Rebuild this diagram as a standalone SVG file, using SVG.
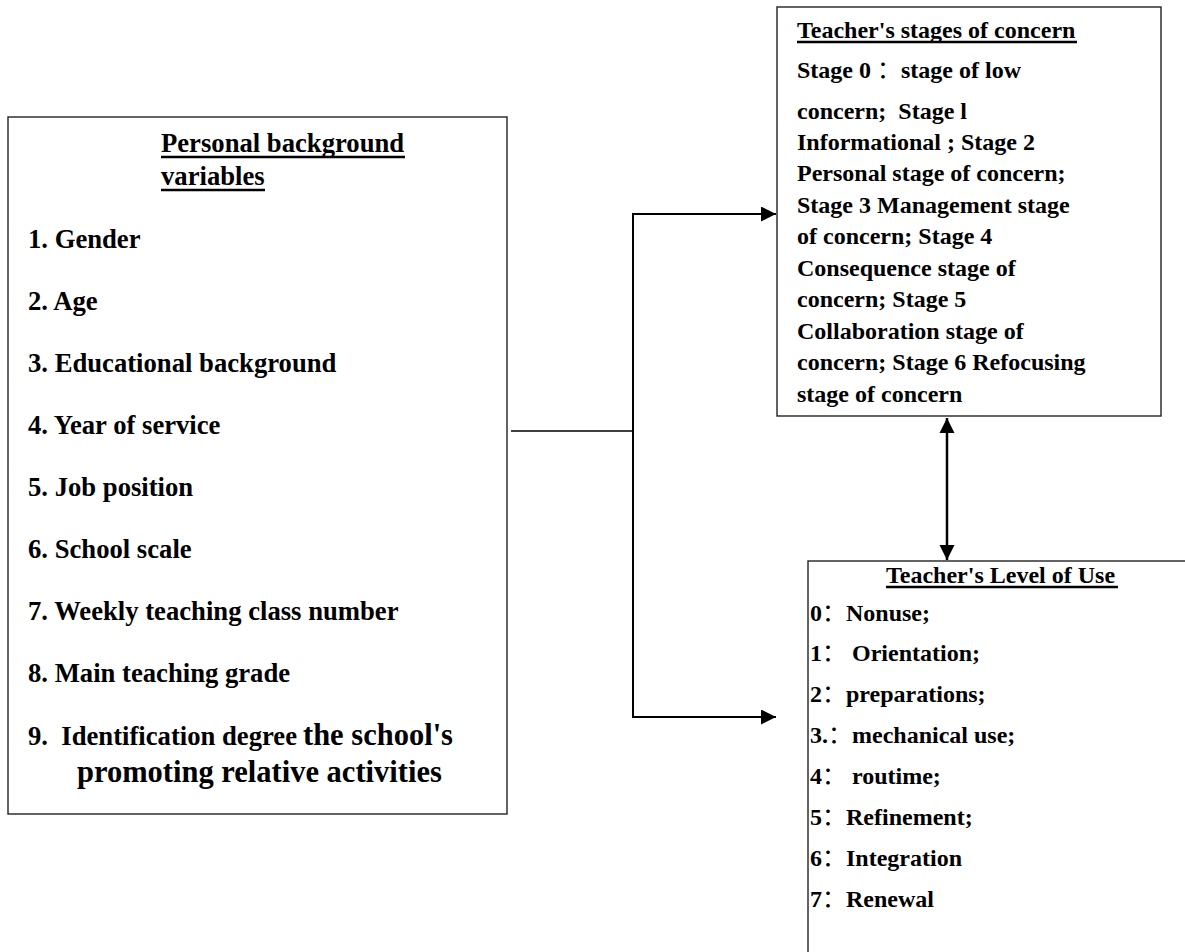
<svg xmlns="http://www.w3.org/2000/svg" width="1185" height="952" viewBox="0 0 1185 952">
  <defs>
    <style>
      .box { fill: #ffffff; stroke: #222222; stroke-width: 1.4; }
      .t { font-family: "Liberation Serif", "Times New Roman", "Noto Sans CJK SC", serif; font-weight: bold; fill: #000000; }
      .l { font-size: 26.67px; }
      .s { font-size: 24px; }
      .c { font-family: "Noto Sans CJK SC", sans-serif; font-weight: normal; }
      .ul { stroke: #000000; stroke-width: 2.4; }
      .conn { fill: none; stroke: #000000; stroke-width: 2; }
      .thin { fill: none; stroke: #000000; stroke-width: 1.5; }
    </style>
    <marker id="ah" viewBox="0 0 10 10" refX="10" refY="5" markerWidth="8" markerHeight="7.5" markerUnits="strokeWidth" orient="auto">
      <path d="M0,0 L10,5 L0,10 z" fill="#000000"/>
    </marker>
    <marker id="ahd" viewBox="0 0 10 10" refX="10" refY="5" markerWidth="6" markerHeight="6.4" markerUnits="strokeWidth" orient="auto-start-reverse">
      <path d="M0,0 L10,5 L0,10 z" fill="#000000"/>
    </marker>
  </defs>
  <rect width="1185" height="952" fill="#ffffff"/>

  <g id="personal-background">
    <rect class="box" x="8" y="117" width="499" height="697"/>
    <text class="t l" x="161" y="152">Personal background</text>
    <line class="ul" x1="161" y1="157" x2="405" y2="157"/>
    <text class="t l" x="161" y="185">variables</text>
    <line class="ul" x1="161" y1="190" x2="265" y2="190"/>
    <text class="t l" x="28" y="248">1. Gender</text>
    <text class="t l" x="28" y="310">2. Age</text>
    <text class="t l" x="28" y="372">3. Educational background</text>
    <text class="t l" x="28" y="434">4. Year of service</text>
    <text class="t l" x="28" y="496">5. Job position</text>
    <text class="t l" x="28" y="558">6. School scale</text>
    <text class="t l" x="28" y="620">7. Weekly teaching class number</text>
    <text class="t l" x="28" y="682">8. Main teaching grade</text>
    <text class="t l" x="28" y="745" xml:space="preserve">9.  Identification degree <tspan x="303" style="font-size:30.5px">the school's</tspan></text>
    <text class="t" x="77" y="782" style="font-size:30.5px">promoting relative activities</text>
  </g>

  <g id="stages-of-concern">
    <rect class="box" x="777" y="7" width="384" height="409"/>
    <text class="t s" x="797" y="38">Teacher's stages of concern</text>
    <line class="ul" x1="797" y1="42" x2="1077" y2="42"/>
    <text class="t s" x="797" y="78">Stage 0 <tspan class="c">：</tspan>stage of low</text>
    <text class="t s" x="797" y="119" xml:space="preserve">concern;  Stage l</text>
    <text class="t s" x="797" y="150">Informational ; Stage 2</text>
    <text class="t s" x="797" y="181">Personal stage of concern;</text>
    <text class="t s" x="797" y="213">Stage 3 Management stage</text>
    <text class="t s" x="797" y="244">of concern; Stage 4</text>
    <text class="t s" x="797" y="276">Consequence stage of</text>
    <text class="t s" x="797" y="307">concern; Stage 5</text>
    <text class="t s" x="797" y="339">Collaboration stage of</text>
    <text class="t s" x="797" y="370">concern; Stage 6 Refocusing</text>
    <text class="t s" x="797" y="402">stage of concern</text>
  </g>

  <g id="level-of-use">
    <rect class="box" x="808" y="561" width="420" height="420"/>
    <text class="t s" x="886" y="583">Teacher's Level of Use</text>
    <line class="ul" x1="886" y1="587" x2="1118" y2="587"/>
    <text class="t s" x="810" y="621">0<tspan class="c">：</tspan>Nonuse;</text>
    <text class="t s" x="810" y="661">1<tspan class="c">：</tspan> Orientation;</text>
    <text class="t s" x="810" y="702">2<tspan class="c">：</tspan>preparations;</text>
    <text class="t s" x="810" y="743">3.<tspan class="c">：</tspan>mechanical use;</text>
    <text class="t s" x="810" y="784">4<tspan class="c">：</tspan> routime;</text>
    <text class="t s" x="810" y="825">5<tspan class="c">：</tspan>Refinement;</text>
    <text class="t s" x="810" y="866">6<tspan class="c">：</tspan>Integration</text>
    <text class="t s" x="810" y="907">7<tspan class="c">：</tspan>Renewal</text>
  </g>

  <g id="connectors">
    <line class="thin" x1="511" y1="431" x2="633" y2="431"/>
    <line class="conn" x1="633" y1="214" x2="633" y2="717"/>
    <line class="conn" x1="632" y1="214" x2="776" y2="214" marker-end="url(#ah)"/>
    <line class="conn" x1="632" y1="717" x2="776" y2="717" marker-end="url(#ah)"/>
    <line class="conn" x1="947" y1="418" x2="947" y2="560" style="stroke-width:2.5" marker-start="url(#ahd)" marker-end="url(#ahd)"/>
  </g>
</svg>
